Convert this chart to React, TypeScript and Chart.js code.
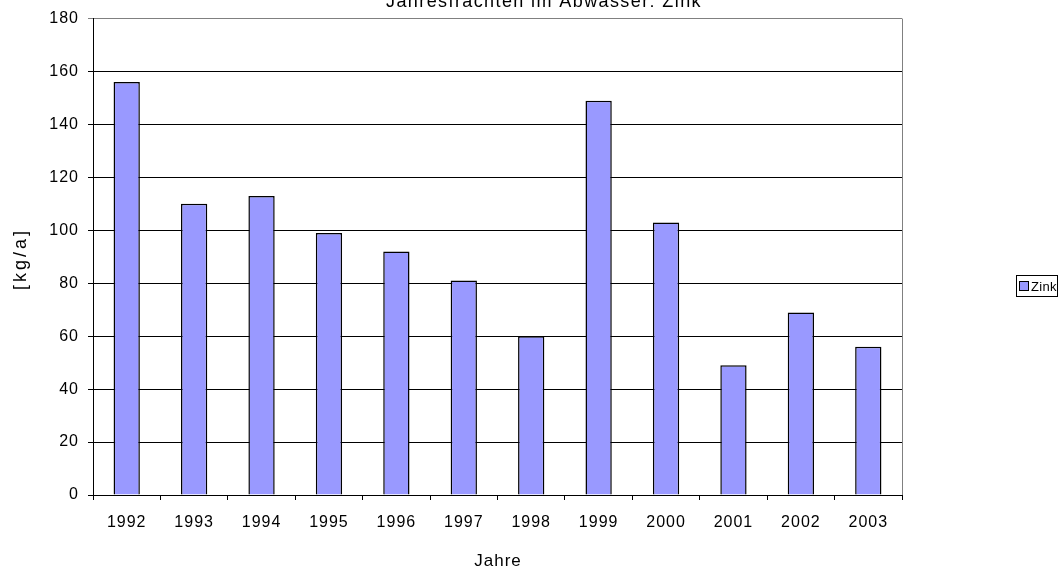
import React, { useEffect, useRef } from "react";
import { Chart, registerables } from "chart.js";

Chart.register(...registerables);

const years = ["1992", "1993", "1994", "1995", "1996", "1997", "1998", "1999", "2000", "2001", "2002", "2003"];
const zinkValues = [156, 110, 113, 99, 92, 81, 60, 149, 103, 49, 69, 56];
const chartTitle = "Jahresfrachten im Abwasser: Zink";
const xTitle = "Jahre";
const yTitle = "[kg/a]";
const seriesName = "Zink";

const FONT = "'Liberation Sans', Arial, sans-serif";
const BAR_COLOR = "#9999FF";

const decorPlugin = {
  id: "decor",
  beforeDraw(chart: any) {
    (chart.ctx as any).letterSpacing = "1px";
  },
  afterDraw(chart: any) {
    const ctx = chart.ctx as any;
    const a = chart.chartArea;
    ctx.save();
    // right plot border
    ctx.strokeStyle = "#808080";
    ctx.lineWidth = 1;
    ctx.beginPath();
    ctx.moveTo(Math.round(a.right) + 0.5, a.top);
    ctx.lineTo(Math.round(a.right) + 0.5, a.bottom);
    ctx.stroke();

    ctx.fillStyle = "#000";
    // title
    ctx.letterSpacing = "1.4px";
    ctx.font = `18px ${FONT}`;
    ctx.textAlign = "center";
    ctx.textBaseline = "alphabetic";
    ctx.fillText(chartTitle, 544, 7);

    // x title
    ctx.letterSpacing = "1px";
    ctx.font = `17px ${FONT}`;
    ctx.fillText(xTitle, 498, 566);

    // y title
    ctx.save();
    ctx.translate(26, 259);
    ctx.rotate(-Math.PI / 2);
    ctx.letterSpacing = "3px";
    ctx.font = `18px ${FONT}`;
    ctx.textAlign = "center";
    ctx.fillText(yTitle, 0, 0);
    ctx.restore();

    // legend
    ctx.letterSpacing = "0.3px";
    ctx.strokeStyle = "#000";
    ctx.lineWidth = 1;
    ctx.strokeRect(1016.5, 275.5, 41, 21);
    ctx.fillStyle = BAR_COLOR;
    ctx.fillRect(1019.5, 281.5, 9, 9);
    ctx.strokeRect(1019.5, 281.5, 9, 9);
    ctx.fillStyle = "#000";
    ctx.font = `13px ${FONT}`;
    ctx.textAlign = "left";
    ctx.textBaseline = "middle";
    ctx.fillText(seriesName, 1031, 287);
    ctx.restore();
  },
};

export default function App() {
  const ref = useRef<HTMLCanvasElement | null>(null);
  useEffect(() => {
    document.body.style.margin = "0";
    if (!ref.current) return;
    const chart = new Chart(ref.current, {
      type: "bar",
      data: {
        labels: years,
        datasets: [
          {
            label: seriesName,
            data: zinkValues,
            backgroundColor: BAR_COLOR,
            borderColor: "#000",
            borderWidth: 1.5,
            categoryPercentage: 1,
            barPercentage: 0.39,
          },
        ],
      },
      options: {
        responsive: false,
        animation: false,
        layout: { padding: { top: 18, right: 158, left: 0, bottom: 0 } },
        plugins: { legend: { display: false }, title: { display: false }, tooltip: { enabled: false } },
        scales: {
          x: {
            afterFit: (s: any) => {
              s.height = 79;
            },
            grid: { offset: true, drawOnChartArea: false, tickLength: 5, color: "#000" },
            border: { display: true, color: "#000", width: 1 },
            ticks: { color: "#000", font: { family: FONT, size: 16 }, padding: 13, maxRotation: 0 },
          },
          y: {
            min: 0,
            max: 180,
            afterFit: (s: any) => {
              s.width = 93;
            },
            grid: {
              tickLength: 5,
              color: (c: any) => (c.tick && c.tick.value === 180 ? "#808080" : "#000"),
            },
            border: { display: true, color: "#000", width: 1 },
            ticks: { stepSize: 20, color: "#000", font: { family: FONT, size: 16 }, padding: 9 },
          },
        },
      },
      plugins: [decorPlugin],
    } as any);
    return () => chart.destroy();
  }, []);
  return <canvas ref={ref} width={1060} height={574} style={{ display: "block" }} />;
}
